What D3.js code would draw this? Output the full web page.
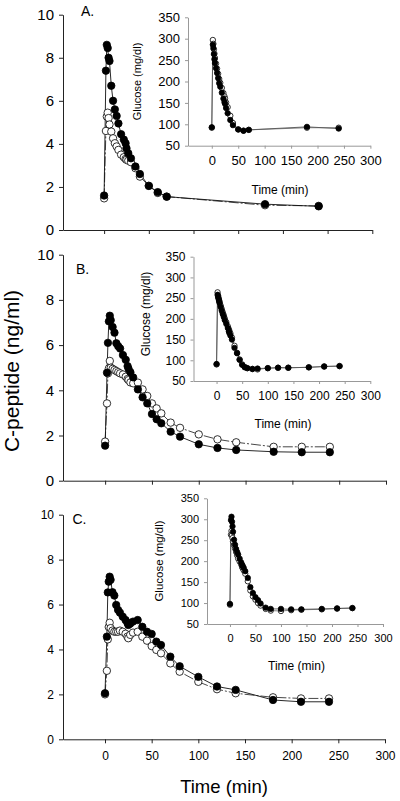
<!DOCTYPE html>
<html><head><meta charset="utf-8">
<script src="https://cdn.jsdelivr.net/npm/d3@7"></script>
<style>body{margin:0;background:#fff}svg{display:block;font-family:"Liberation Sans",Arial,sans-serif}</style>
</head><body>
<script>
// ---------- DATA ----------
const timesA = [0,2,3,4,5,6,8,10,12,14,16,19,22,24,25,27,30,35,40,50,60,70,180,240];
const cpepFilledA = [1.6,7.4,8.6,8.45,8.0,7.85,6.7,6.0,5.6,5.3,4.95,4.45,4.2,4.03,3.8,3.57,3.33,2.95,2.6,2.05,1.76,1.55,1.2,1.1];
const cpepOpenA   = [1.47,4.6,5.27,5.45,5.2,4.9,4.57,4.26,4.03,3.88,3.72,3.5,3.38,3.3,3.26,3.22,3.15,2.87,2.48,2.05,1.72,1.55,1.15,1.12];
const glucFilledA = [93,286,278,264,252,243,231,220,208,196,188,174,160,152,148,138,126,110,98,88,85,87,94,90];
const glucOpenA   = [92,297,288,275,265,255,242,230,218,206,197,185,173,165,160,151,140,120,103,88,85,87,92,92];

const timesB = [0,2,3,4,5,6,8,10,12,14,16,19,22,24,25,27,30,35,40,45,50,55,60,70,80,100,120,140,180,210,240];
const cpepFilledB = [1.55,4.78,6.1,7.05,7.3,7.1,6.8,6.55,6.08,5.95,5.85,5.56,5.35,5.07,4.95,4.8,4.57,4.04,3.69,3.42,2.95,2.72,2.54,2.17,1.95,1.61,1.45,1.36,1.28,1.26,1.26];
const cpepOpenB   = [1.73,3.42,4.75,4.97,5.3,5.0,4.95,4.9,4.85,4.8,4.75,4.7,4.6,4.5,4.45,4.35,4.31,4.34,4.04,3.75,3.42,3.2,2.98,2.57,2.34,2.05,1.83,1.7,1.5,1.5,1.5];
const glucFilledB = [91,258,253,248,243,238,229,220,212,205,197,188,178,170,166,160,150,130,117,101,89,83,81,79,80,81,82,82,83,85,86];
const glucOpenB   = [90,264,256,250,245,240,232,224,216,209,201,192,182,175,171,165,155,135,118,102,90,84,81,79,78,81,82,82,83,85,86];

const timesC = [0,2,3,4,5,6,8,10,12,14,16,19,22,24,25,27,30,35,40,45,50,55,60,70,80,100,120,140,180,210,240];
const cpepFilledC = [2.05,4.57,6.54,7.02,7.24,7.1,6.55,6.4,5.98,5.76,5.64,5.46,5.31,5.19,5.09,5.15,5.24,5.31,5.01,4.79,4.69,4.35,4.2,3.68,3.25,2.78,2.35,2.2,1.75,1.67,1.67];
const cpepOpenC   = [2.0,3.05,4.45,5.0,5.19,4.95,4.84,4.79,4.79,4.79,4.84,4.79,4.7,4.57,4.5,4.65,4.75,4.79,4.57,4.39,4.15,3.98,3.83,3.38,3.01,2.56,2.23,2.05,1.87,1.82,1.82];
const glucFilledC = [98,298,306,294,283,270,251,239,229,222,216,206,197,191,188,184,176,160,138,124,114,107,99,89,86,86,85,85,86,87,88];
const glucOpenC   = [96,263,272,262,255,247,238,230,222,214,206,199,192,186,183,178,170,152,130,116,108,100,94,86,82,81,83,84,85,87,88];

const mainYTicks = [0,2,4,6,8,10];
const timeTicks = [0,50,100,150,200,250,300];
const glucTicks = [50,100,150,200,250,300,350];
const panelLabels = ["A.","B.","C."];
const yTitle = "C-peptide (ng/ml)";
const xTitle = "Time (min)";
const insetYTitle = "Glucose (mg/dl)";

// ---------- LAYOUT ----------
const W = 400, H = 801;
const svg = d3.select("body").append("svg").attr("width", W).attr("height", H);

const panels = [
  {t: timesA, cf: cpepFilledA, co: cpepOpenA, gf: glucFilledA, go: glucOpenA, label: panelLabels[0],
   main: {x0: 63, x1: 372.3, y0: 230, y1: 14.7, dom0: -46, font: 15, xLabels: false},
   lab: {x: 81, y: 16},
   inset: {x0: 188, x1: 370.4, y0: 145.7, y1: 17.3, font: 13, title: {x: 138.5, y: 81.5, fs: 11}, xt: {x: 280, y: 194, fs: 12}},
   filledTop: true},
  {t: timesB, cf: cpepFilledB, co: cpepOpenB, gf: glucFilledB, go: glucOpenB, label: panelLabels[1],
   main: {x0: 63, x1: 386, y0: 480.7, y1: 254.7, dom0: -45, font: 15, xLabels: false},
   lab: {x: 76, y: 273.5},
   inset: {x0: 193.5, x1: 370.3, y0: 381, y1: 256.7, font: 12, title: {x: 147, y: 314, fs: 12}, xt: {x: 283, y: 427.5, fs: 12}},
   filledTop: true},
  {t: timesC, cf: cpepFilledC, co: cpepOpenC, gf: glucFilledC, go: glucOpenC, label: panelLabels[2],
   main: {x0: 63, x1: 385, y0: 739.3, y1: 514.7, dom0: -45, font: 12, xLabels: true},
   lab: {x: 72.5, y: 524},
   inset: {x0: 207, x1: 383, y0: 624, y1: 498.3, font: 11, title: {x: 159.5, y: 561, fs: 11.5}, xt: {x: 296.5, y: 670, fs: 12}},
   filledTop: true}
];

function series(g, t, v, x, y, r, open, lineColor, dash) {
  const pts = t.map((d, i) => [d, v[i]]);
  g.append("path").datum(pts)
    .attr("d", d3.line().x(d => x(d[0])).y(d => y(d[1])))
    .attr("fill", "none").attr("stroke", lineColor).attr("stroke-width", 0.9)
    .attr("stroke-dasharray", dash || null);
  return pts;
}
function dots(g, pts, x, y, r, open) {
  g.selectAll(null).data(pts).enter().append("circle")
    .attr("cx", d => x(d[0])).attr("cy", d => y(d[1])).attr("r", r)
    .attr("fill", open ? "#fff" : "#000").attr("stroke", "#000").attr("stroke-width", 0.8);
}

panels.forEach(p => {
  const m = p.main;
  const x = d3.scaleLinear().domain([m.dom0, 300]).range([m.x0, m.x1]);
  const y = d3.scaleLinear().domain([0, 10]).range([m.y0, m.y1]);
  const g = svg.append("g");

  const yAx = g.append("g").attr("transform", `translate(${m.x0},0)`)
    .call(d3.axisLeft(y).tickValues(mainYTicks).tickSize(4).tickSizeOuter(0).tickPadding(5).tickFormat(d3.format("d")));
  const xAx = g.append("g").attr("transform", `translate(0,${m.y0})`)
    .call(d3.axisBottom(x).tickValues(timeTicks).tickSize(4).tickSizeOuter(0).tickPadding(8)
      .tickFormat(m.xLabels ? d3.format("d") : () => ""));
  [yAx, xAx].forEach(a => {
    a.selectAll("text").attr("font-size", m.font).attr("fill", "#000").attr("font-family", "Liberation Sans, Arial, sans-serif");
    a.select(".domain").attr("stroke", "#222");
    a.selectAll(".tick line").attr("stroke", "#222");
  });

  g.append("text").attr("x", p.lab.x).attr("y", p.lab.y).attr("font-size", 14).text(p.label);

  const po = series(g, p.t, p.co, x, y, 3.6, true, "#333", "10,2,2,2");
  const pf = series(g, p.t, p.cf, x, y, 3.6, false, "#111", null);
  dots(g, po, x, y, 3.7, true);
  dots(g, pf, x, y, 3.7, false);

  // inset
  const ins = p.inset;
  const xi = d3.scaleLinear().domain([-45, 300]).range([ins.x0, ins.x1]);
  const yi = d3.scaleLinear().domain([50, 350]).range([ins.y0, ins.y1]);
  const gi = svg.append("g");
  const yiAx = gi.append("g").attr("transform", `translate(${ins.x0},0)`)
    .call(d3.axisLeft(yi).tickValues(glucTicks).tickSize(3).tickSizeOuter(0).tickPadding(5));
  const xiAx = gi.append("g").attr("transform", `translate(0,${ins.y0})`)
    .call(d3.axisBottom(xi).tickValues(timeTicks).tickSize(3).tickSizeOuter(0).tickPadding(7));
  [yiAx, xiAx].forEach(a => {
    a.selectAll("text").attr("font-size", ins.font).attr("fill", "#000").attr("font-family", "Liberation Sans, Arial, sans-serif");
    a.select(".domain").attr("stroke", "#999");
    a.selectAll(".tick line").attr("stroke", "#999");
  });
  gi.append("text").attr("transform", `translate(${ins.title.x},${ins.title.y}) rotate(-90)`)
    .attr("text-anchor", "middle").attr("dominant-baseline", "middle").attr("font-size", ins.title.fs).text(insetYTitle);
  gi.append("text").attr("x", ins.xt.x).attr("y", ins.xt.y).attr("text-anchor", "middle")
    .attr("font-size", ins.xt.fs).text(xTitle);

  const gio = series(gi, p.t, p.go, xi, yi, 2.6, true, "#777", null);
  const gif = series(gi, p.t, p.gf, xi, yi, 2.6, false, "#555", null);
  dots(gi, gio, xi, yi, 2.7, true);
  dots(gi, gif, xi, yi, 2.7, false);
});

// global titles
svg.append("text").attr("transform", "translate(19,371) rotate(-90)")
  .attr("text-anchor", "middle").attr("font-size", 21).text(yTitle);
svg.append("text").attr("x", 224).attr("y", 793).attr("text-anchor", "middle")
  .attr("font-size", 18.5).text(xTitle);
</script>
</body></html>
